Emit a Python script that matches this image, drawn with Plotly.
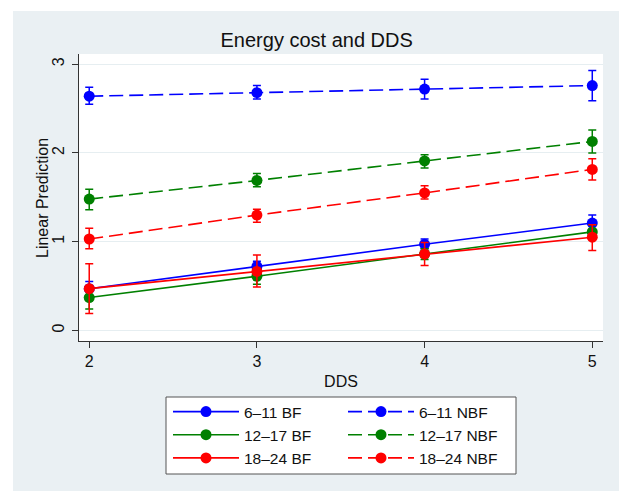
import plotly.graph_objects as go

# ---- data ----
dds = [2, 3, 4, 5]

bf_611 = [0.47, 0.72, 0.97, 1.21]
bf_611_lo = [0.39, 0.66, 0.92, 1.13]
bf_611_hi = [0.55, 0.78, 1.03, 1.30]

nbf_611 = [2.64, 2.68, 2.72, 2.76]
nbf_611_lo = [2.55, 2.61, 2.61, 2.59]
nbf_611_hi = [2.74, 2.76, 2.83, 2.93]

bf_1217 = [0.37, 0.61, 0.86, 1.11]
bf_1217_lo = [0.24, 0.52, 0.80, 1.03]
bf_1217_hi = [0.49, 0.70, 0.92, 1.19]

nbf_1217 = [1.48, 1.69, 1.91, 2.13]
nbf_1217_lo = [1.36, 1.62, 1.83, 2.00]
nbf_1217_hi = [1.59, 1.77, 1.98, 2.26]

bf_1824 = [0.47, 0.665, 0.86, 1.05]
bf_1824_lo = [0.19, 0.49, 0.73, 0.90]
bf_1824_hi = [0.75, 0.85, 0.99, 1.19]

nbf_1824 = [1.03, 1.30, 1.55, 1.815]
nbf_1824_lo = [0.92, 1.22, 1.48, 1.695]
nbf_1824_hi = [1.15, 1.365, 1.63, 1.935]

series = [
    ("6\u201311 BF", bf_611, bf_611_lo, bf_611_hi, "#0000FF", "solid", "legend"),
    ("6\u201311 NBF", nbf_611, nbf_611_lo, nbf_611_hi, "#0000FF", "14px,6px", "legend2"),
    ("12\u201317 BF", bf_1217, bf_1217_lo, bf_1217_hi, "#008000", "solid", "legend"),
    ("12\u201317 NBF", nbf_1217, nbf_1217_lo, nbf_1217_hi, "#008000", "14px,6px", "legend2"),
    ("18\u201324 BF", bf_1824, bf_1824_lo, bf_1824_hi, "#FF0000", "solid", "legend"),
    ("18\u201324 NBF", nbf_1824, nbf_1824_lo, nbf_1824_hi, "#FF0000", "14px,6px", "legend2"),
]

FONT = "Liberation Sans, Arial, sans-serif"
PANEL = "#EAF0F3"

fig = go.Figure()
for name, y, lo, hi, color, dash, leg in series:
    fig.add_trace(go.Scatter(
        x=dds, y=y, name=name, mode="lines+markers", legend=leg,
        line=dict(color=color, width=1.6, dash=dash),
        marker=dict(color=color, size=11),
        error_y=dict(
            type="data", symmetric=False,
            array=[h - v for h, v in zip(hi, y)],
            arrayminus=[v - l for v, l in zip(y, lo)],
            color=color, thickness=1.5, width=4,
        ),
    ))

W, H = 619, 491
L, R, T, B = 79, 16, 54, 150
pw, ph = W - L - R, H - T - B

def px_x(p):
    return (p - L) / pw

def px_y(p):
    return (H - B - p) / ph

legend_common = dict(
    orientation="v", xanchor="left", yanchor="top",
    bgcolor="rgba(0,0,0,0)", borderwidth=0,
    font=dict(size=15.5), itemwidth=66, traceorder="normal",
)

fig.update_layout(
    width=W, height=H,
    margin=dict(l=L, r=R, t=T, b=B, autoexpand=False),
    paper_bgcolor="white",
    plot_bgcolor="white",
    font=dict(family=FONT, size=15, color="#111"),
    title=dict(
        text="Energy cost and DDS",
        x=316.7 / W, xanchor="center", xref="container",
        y=1 - 40 / H, yanchor="middle", yref="container",
        font=dict(size=20, color="#111"),
    ),
    shapes=[
        dict(type="rect", xref="paper", yref="paper", layer="below",
             x0=px_x(13), x1=px_x(640), y0=px_y(11), y1=px_y(520),
             fillcolor=PANEL, line=dict(width=0)),
        dict(type="rect", xref="paper", yref="paper", layer="below",
             x0=0, x1=1, y0=0, y1=1,
             fillcolor="white", line=dict(width=0)),
        dict(type="rect", xref="paper", yref="paper", layer="below",
             x0=px_x(166), x1=px_x(516), y0=px_y(397), y1=px_y(474),
             fillcolor="white", line=dict(color="#555", width=1)),
    ],
    annotations=[
        dict(text="Linear Prediction", textangle=-90,
             xref="paper", yref="paper", x=px_x(42), y=px_y(198),
             xanchor="center", yanchor="middle", showarrow=False,
             font=dict(size=16, color="#111")),
    ],
    xaxis=dict(
        range=[1.939, 5.064], tickvals=dds, ticktext=[str(v) for v in dds],
        showgrid=False, zeroline=False,
        showline=True, linecolor="#333", linewidth=1,
        ticks="outside", ticklen=6, tickcolor="#333",
        tickfont=dict(size=16),
        title=dict(text="DDS", font=dict(size=16), standoff=6),
    ),
    yaxis=dict(
        range=[-0.12, 3.116], tickvals=[0, 1, 2, 3],
        showgrid=True, gridcolor="#E6EEF1", gridwidth=1.2,
        zeroline=False,
        showline=True, linecolor="#333", linewidth=1,
        ticks="outside", ticklen=6, tickcolor="#333",
        tickangle=-90, tickfont=dict(size=16), ticklabelstandoff=2,
    ),
    legend=dict(x=px_x(168), y=px_y(395), **legend_common),
    legend2=dict(x=px_x(343), y=px_y(395), **legend_common),
    showlegend=True,
)

fig.write_html(
    "out.html",
    config={"displayModeBar": False},
    post_script="document.body.style.margin='0';document.body.style.padding='0';",
)
